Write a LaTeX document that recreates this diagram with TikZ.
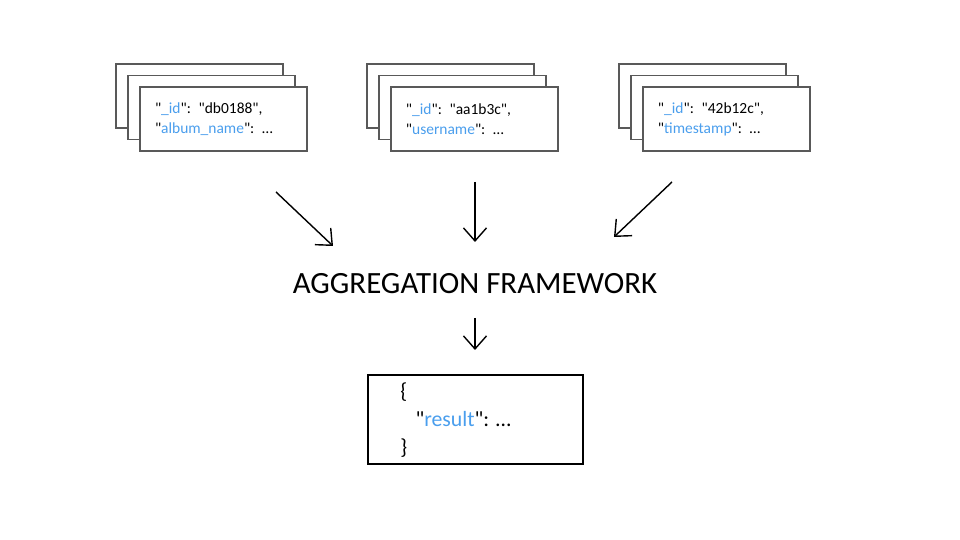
\documentclass[tikz,border=0pt]{standalone}
\usepackage{fontspec}
\setmainfont{Carlito}[Ligatures=TeXOff]
\usetikzlibrary{arrows,arrows.meta}
\definecolor{keyblue}{HTML}{4A9EED}
\tikzset{
  card/.style={draw=black!65,fill=white,line width=0.5pt,minimum width=1.67cm,minimum height=0.64cm},
  front/.style={card,text width=1.37cm,align=left,inner xsep=0.15cm,inner ysep=0.08cm,
    font=\fontsize{4.4}{5.7}\selectfont},
  flow/.style={-{Straight Barb[length=1.3mm,width=2.3mm]},line width=0.4pt},
}
\newcommand{\key}[1]{"\textcolor{keyblue}{#1}"}

\begin{document}
\begin{tikzpicture}
      \useasboundingbox (0,0) rectangle (9.6,5.4);

      % Back cards of the three stacks
      \foreach \x/\name in {2.235/album,4.745/user,7.265/event} {
        \node[card] (\name-back) at (\x-0.24,4.21+0.23) {};
        \node[card] (\name-mid) at (\x-0.12,4.21+0.115) {};
      }

      % Front cards
      \node[front] (album) at (2.235,4.21) {\key{\_id}: "db0188",\\ \key{album\_name}: \dots};
      \node[front] (user) at (4.745,4.21) {\key{\_id}: "aa1b3c",\\ \key{username}: \dots};
      \node[front] (event) at (7.265,4.21) {\key{\_id}: "42b12c",\\ \key{timestamp}: \dots};

      % Title
      \node[font=\fontsize{8.8}{10}\selectfont] (agg) at (4.75,2.56) {AGGREGATION FRAMEWORK};

      % Result box
      \node[draw,line width=0.7pt,minimum width=2.15cm,minimum height=0.89cm] (result) at (4.755,1.205) {};
      \node[anchor=west,align=left,font=\fontsize{6.2}{8}\selectfont] (restext) at (3.88,1.2)
        {\{\\\hspace{4.3pt}\key{result}: \dots\\\}};

      % Arrow ends
      \coordinate (a1) at (2.76,3.48);  \coordinate (b1) at (3.33,2.94);
      \coordinate (a2) at (4.75,3.58);  \coordinate (b2) at (4.75,2.98);
      \coordinate (a3) at (6.72,3.58);  \coordinate (b3) at (6.14,3.03);
      \coordinate (a4) at (4.75,2.22);  \coordinate (b4) at (4.75,1.90);

      % Draw the arrows
      \foreach \i in {1,...,4} {
        \draw[flow] (a\i) -- (b\i);
      }
    \end{tikzpicture}
\end{document}
